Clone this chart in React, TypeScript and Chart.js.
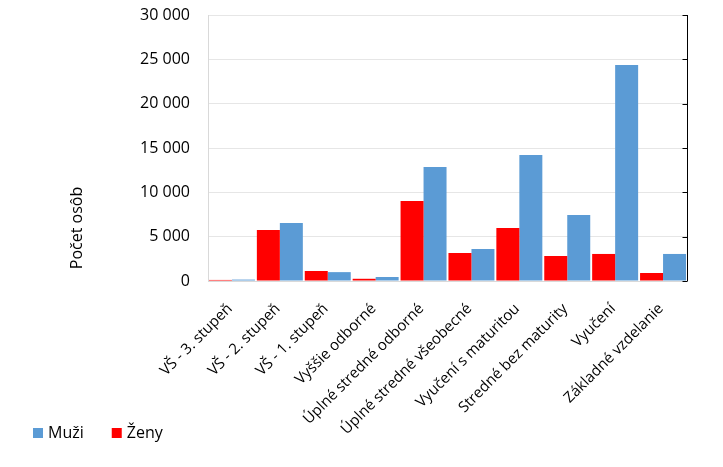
import React, { useEffect, useRef } from "react";
import { Chart, registerables } from "chart.js";

Chart.register(...registerables);

const categories = [
  "VŠ - 3. stupeň",
  "VŠ - 2. stupeň",
  "VŠ - 1. stupeň",
  "Vyššie odborné",
  "Úplné stredné odborné",
  "Úplné stredné všeobecné",
  "Vyučení s maturitou",
  "Stredné bez maturity",
  "Vyučení",
  "Základné vzdelanie",
];
const zenyValues = [120, 5750, 1130, 250, 9020, 3160, 5980, 2820, 3050, 900];
const muziValues = [160, 6540, 1000, 450, 12860, 3610, 14210, 7440, 24360, 3050];
const yTitle = "Počet osôb";
const yMin = 0;
const yMax = 30000;
const yStep = 5000;

const FONT = "'Open Sans', sans-serif";
const fmt = (v: number) => String(v).replace(/\B(?=(\d{3})+(?!\d))/g, " ");

const extras = {
  id: "extras",
  afterDraw(chart: any) {
    const { ctx, chartArea } = chart;
    const y = chart.scales.y;
    ctx.save();
    // right axis line with inner ticks
    ctx.strokeStyle = "#000";
    ctx.lineWidth = 1;
    const rx = Math.round(chartArea.right) + 0.5;
    ctx.beginPath();
    ctx.moveTo(rx, y.getPixelForValue(yMax));
    ctx.lineTo(rx, y.getPixelForValue(yMin));
    for (let v = yMin; v <= yMax; v += yStep) {
      const py = Math.round(y.getPixelForValue(v)) + 0.5;
      ctx.moveTo(rx - 5, py);
      ctx.lineTo(rx, py);
    }
    ctx.stroke();
    // y title
    ctx.fillStyle = "#000";
    ctx.font = "16px " + FONT;
    ctx.textAlign = "center";
    ctx.textBaseline = "middle";
    ctx.save();
    ctx.translate(77, 228);
    ctx.rotate(-Math.PI / 2);
    ctx.fillText(yTitle, 0, 0);
    ctx.restore();
    // legend (reversed order)
    const items = chart.data.datasets.slice().reverse();
    let lx = 33;
    const ly = 433;
    ctx.textAlign = "left";
    for (const ds of items) {
      ctx.fillStyle = ds.backgroundColor;
      ctx.fillRect(lx, ly - 5, 10, 10);
      ctx.fillStyle = "#000";
      ctx.fillText(ds.label, lx + 15, ly);
      lx += 15 + ctx.measureText(ds.label).width + 28;
    }
    ctx.restore();
  },
};

export default function App() {
  const ref = useRef<HTMLCanvasElement>(null);
  useEffect(() => {
    const chart = new Chart(ref.current!, {
      type: "bar",
      data: {
        labels: categories,
        datasets: [
          { label: "Ženy", data: zenyValues, backgroundColor: "#FF0000" },
          { label: "Muži", data: muziValues, backgroundColor: "#5B9BD5" },
        ],
      },
      options: {
        animation: false,
        responsive: true,
        maintainAspectRatio: false,
        datasets: { bar: { categoryPercentage: 0.96, barPercentage: 1 } },
        layout: { padding: { left: 3, right: 36, top: 15, bottom: 0 } },
        plugins: {
          tooltip: { enabled: false },
          legend: { display: false },
        },
        scales: {
          x: {
            grid: { display: false, drawTicks: false },
            border: { color: "#d9d9d9", width: 1 },
            ticks: {
              color: "#000",
              font: { family: FONT, size: 15 },
              minRotation: 45,
              maxRotation: 45,
              autoSkip: false,
              padding: 19,
              labelOffset: -2,
            },
            afterFit: (s: any) => {
              s.height = 186;
              s.paddingTop = 0;
            },
          },
          y: {
            min: yMin,
            max: yMax,
            grid: { color: "#e6e6e6", drawTicks: false, tickLength: 0 },
            border: { color: "#d9d9d9", width: 1 },
            ticks: {
              stepSize: yStep,
              color: "#000",
              font: { family: FONT, size: 16 },
              padding: 18,
              callback: (v: any) => fmt(Number(v)),
            },
            afterFit: (s: any) => {
              s.width = 205;
              s.paddingTop = 0;
              s.paddingBottom = 0;
            },
          },
        },
      },
      plugins: [extras],
    });
    return () => chart.destroy();
  }, []);
  return (
    <div style={{ position: "absolute", left: 0, top: 0, width: 723, height: 467 }}>
      <canvas ref={ref} />
    </div>
  );
}
